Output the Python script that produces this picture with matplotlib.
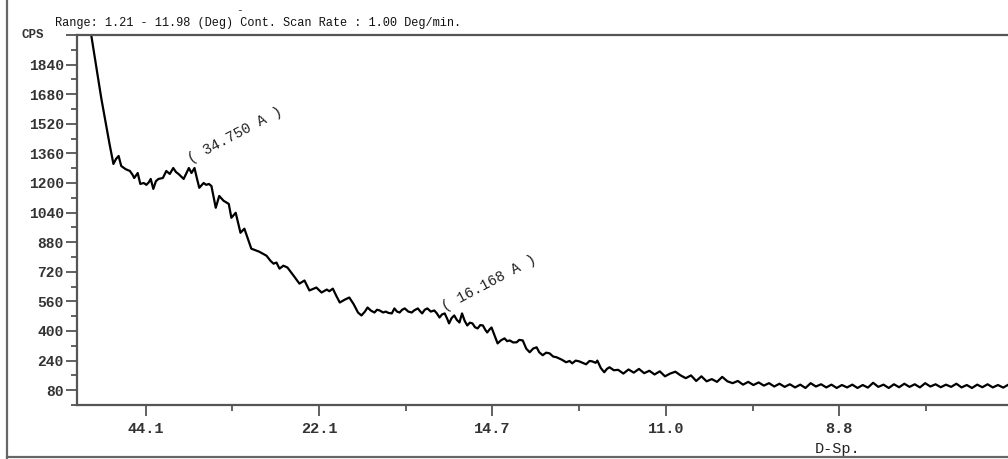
import matplotlib
matplotlib.use('Agg')
import matplotlib.pyplot as plt
from matplotlib.lines import Line2D

# scan data (2-theta in deg, intensity in CPS)
two_theta = [1.21, 1.38, 1.49, 1.585, 1.63, 1.66, 1.69, 1.72, 1.77, 1.82, 1.85, 1.87,
             1.91, 1.94, 1.98, 2.01, 2.04, 2.06, 2.09, 2.12, 2.15, 2.20, 2.24, 2.28,
             2.32, 2.35, 2.38, 2.44, 2.50, 2.53, 2.565, 2.59, 2.62, 2.67, 2.70, 2.73,
             2.76, 2.81, 2.85, 2.90, 2.96, 2.99, 3.04, 3.095, 3.14, 3.22, 3.31, 3.395,
             3.44, 3.476, 3.51, 3.545, 3.59, 3.637, 3.706, 3.775, 3.833, 3.89, 3.97,
             4.03, 4.09, 4.12, 4.16, 4.20, 4.24, 4.30, 4.35, 4.40, 4.45, 4.49, 4.53,
             4.56, 4.60, 4.64, 4.67, 4.70, 4.74, 4.77, 4.80, 4.84, 4.87, 4.90, 4.93,
             4.96, 4.99, 5.03, 5.07, 5.10, 5.14, 5.17, 5.19, 5.22, 5.25, 5.29, 5.33,
             5.36, 5.39, 5.42, 5.45, 5.48, 5.50, 5.53, 5.56, 5.59, 5.62, 5.65, 5.68,
             5.71, 5.74, 5.77, 5.80, 5.83, 5.86, 5.89, 5.92, 5.94, 5.97, 5.99, 6.03,
             6.06, 6.10, 6.14, 6.17, 6.20, 6.24, 6.28, 6.31, 6.35, 6.39, 6.43, 6.47,
             6.51, 6.54, 6.58, 6.62, 6.66, 6.70, 6.74, 6.80, 6.85, 6.89, 6.92, 6.96,
             7.00, 7.04, 7.08, 7.12, 7.15, 7.19, 7.21, 7.25, 7.29, 7.32, 7.35, 7.40,
             7.45, 7.51, 7.57, 7.63, 7.69, 7.75, 7.81, 7.87, 7.93, 7.99, 8.05, 8.11,
             8.17, 8.23, 8.29, 8.35, 8.41, 8.47, 8.53, 8.59, 8.65, 8.71, 8.77, 8.83,
             8.89, 8.95, 9.01, 9.07, 9.13, 9.19, 9.25, 9.31, 9.37, 9.43, 9.49, 9.55,
             9.61, 9.67, 9.73, 9.79, 9.85, 9.91, 9.97, 10.03, 10.09, 10.15, 10.21,
             10.27, 10.33, 10.39, 10.45, 10.51, 10.57, 10.63, 10.69, 10.75, 10.81,
             10.87, 10.93, 10.99, 11.05, 11.11, 11.17, 11.23, 11.29, 11.35, 11.41,
             11.47, 11.53, 11.59, 11.65, 11.71, 11.77, 11.83, 11.89, 11.95, 11.98]
cps = [2445, 1982, 1658, 1411, 1303, 1330, 1346, 1292, 1275, 1265, 1245, 1227,
       1254, 1195, 1200, 1190, 1205, 1222, 1168, 1210, 1222, 1227, 1265, 1249,
       1281, 1260, 1249, 1222, 1281, 1254, 1281, 1230, 1174, 1200, 1190, 1195,
       1184, 1066, 1130, 1104, 1087, 1012, 1039, 931, 953, 845, 829, 807,
       780, 764, 770, 737, 753, 743, 700, 656, 673, 619, 635,
       608, 624, 615, 629, 590, 554, 570, 581, 545, 500, 484, 505,
       527, 510, 500, 515, 511, 500, 505, 498, 495, 522, 505, 500,
       515, 522, 505, 500, 512, 522, 505, 495, 515, 522, 505, 511,
       495, 473, 490, 495, 465, 441, 470, 484, 460, 446, 495, 455,
       430, 445, 441, 420, 414, 432, 430, 405, 392, 410, 419, 370,
       333, 350, 360, 345, 349, 338, 339, 352, 349, 305, 285, 305,
       312, 285, 269, 283, 279, 262, 258, 245, 231, 238, 225, 240,
       236, 228, 220, 238, 236, 228, 240, 200, 177, 195, 204, 188,
       190, 170, 192, 175, 195, 172, 185, 165, 182, 155, 170, 180,
       160, 145, 160, 130, 155, 128, 140, 125, 152, 128, 118, 130,
       110, 125, 108, 122, 105, 118, 100, 115, 98, 112, 95, 110,
       92, 118, 100, 112, 95, 110, 92, 108, 95, 110, 92,
       108, 94, 120, 98, 110, 92, 112, 96, 115, 98,
       112, 95, 118, 100, 112, 96, 110, 98, 115, 95,
       108, 92, 110, 96, 112, 95, 108, 94, 110, 100]

x_ticks = [2, 4, 6, 8, 10]
x_tick_labels = ['44.1', '22.1', '14.7', '11.0', '8.8']
y_ticks = [80, 240, 400, 560, 720, 880, 1040, 1200, 1360, 1520, 1680, 1840, 2000]
y_tick_labels = ['80', '240', '400', '560', '720', '880', '1040', '1200', '1360',
                 '1520', '1680', '1840', '']
peaks = [2.54, 5.46]
peak_cps = [1290, 490]
peak_labels = ['( 34.750 A )', '( 16.168 A )']

mono = 'Liberation Mono'
axcol = '#555555'

fig = plt.figure(figsize=(10.08, 4.59), dpi=100)
ax = fig.add_axes([77/1008, 54/459, 934/1008, 370/459])
ax.plot(two_theta, cps, color='black', lw=1.6, solid_joinstyle='round')
ax.set_xlim(1.21, 11.98)
ax.set_ylim(0, 2000)

ax.set_xticks(x_ticks)
ax.set_xticklabels(x_tick_labels)
ax.set_xticks([3, 5, 7, 9, 11], minor=True)
ax.set_yticks(y_ticks)
ax.set_yticklabels(y_tick_labels)
ax.set_yticks(range(0, 2000, 160), minor=True)

ax.spines['right'].set_visible(False)
for s in ['left', 'bottom', 'top']:
    ax.spines[s].set_color(axcol)
    ax.spines[s].set_linewidth(1.6)
ax.tick_params(axis='both', which='major', length=8, width=1.3, color=axcol, pad=1.5)
ax.tick_params(axis='both', which='minor', length=4, width=1.3, color=axcol)
ax.tick_params(axis='x', pad=4)
for lab in ax.get_yticklabels():
    lab.set_fontfamily(mono)
    lab.set_fontweight('bold')
    lab.set_fontsize(10.5)
    lab.set_color('#333333')
for lab in ax.get_xticklabels():
    lab.set_fontfamily(mono)
    lab.set_fontweight('bold')
    lab.set_fontsize(11)
    lab.set_color('#333333')

# the top tick is labelled with the unit, set further left
fig.text(21/1008, 1 - 35/459, 'CPS', fontfamily=mono, fontweight='bold', fontsize=9,
         color='#333333', va='center', ha='left')

ax.set_xlabel('D-Sp.', fontfamily=mono, fontsize=11, color='#222222')
ax.xaxis.set_label_coords((838 - 77) / 934, -0.1)

for x, y, t in zip(peaks, peak_cps, peak_labels):
    ax.text(x, y, t, rotation=28, rotation_mode='anchor', ha='left', va='bottom',
            fontfamily=mono, fontsize=10.5, color='#222222')

fig.text(55/1008, 1 - 23/459, 'Range: 1.21 - 11.98 (Deg) Cont. Scan Rate : 1.00 Deg/min.',
         fontfamily=mono, fontsize=8.6, color='#111111', va='center', ha='left')
fig.text(240/1008, 1 - 10/459, '-', fontfamily=mono, fontsize=8, color='#333333',
         va='center', ha='center')

# outer frame lines of the printout
fig.add_artist(Line2D([7/1008, 7/1008], [1 - 458/459, 1.0], color='#666666', lw=1.6))
fig.add_artist(Line2D([7/1008, 1.0], [1 - 457/459, 1 - 457/459], color='#666666', lw=1.6))

fig.savefig('out.png', dpi=100)
